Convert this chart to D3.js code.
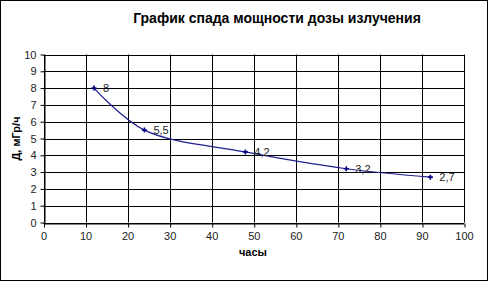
<!DOCTYPE html>
<html>
<head>
<meta charset="utf-8">
<script src="https://cdn.jsdelivr.net/npm/d3@7"></script>
<style>
  body { margin: 0; background: #fff; }
  text { font-family: Arial, "Liberation Sans", sans-serif; }
</style>
</head>
<body>
<div id="chart"></div>
<script>
// data
const hours = [12, 24, 48, 72, 92];
const doseRate = [8, 5.5, 4.2, 3.2, 2.7];
const pointLabels = ['8', '5,5', '4,2', '3,2', '2,7'];
const xTicks = [0, 10, 20, 30, 40, 50, 60, 70, 80, 90, 100];
const yTicks = [0, 1, 2, 3, 4, 5, 6, 7, 8, 9, 10];

const width = 489, height = 282;
const plot = { left: 43.5, right: 464, top: 54.5, bottom: 222.5 };

const svg = d3.select('#chart')
  .append('svg')
  .attr('width', width)
  .attr('height', height);

svg.append('rect')
  .attr('x', 0.5).attr('y', 0.5)
  .attr('width', width - 2).attr('height', height - 2)
  .attr('fill', 'white')
  .attr('stroke', 'black');

const x = d3.scaleLinear().domain([0, 100]).range([plot.left, plot.right]);
const y = d3.scaleLinear().domain([0, 10]).range([plot.bottom, plot.top]);

//gridlines
svg.append('g')
  .selectAll('line')
  .data(yTicks)
  .join('line')
  .attr('x1', plot.left).attr('x2', plot.right)
  .attr('y1', d => Math.round(y(d)) + 0.5).attr('y2', d => Math.round(y(d)) + 0.5)
  .attr('stroke', 'black');

svg.append('g')
  .selectAll('line')
  .data(xTicks)
  .join('line')
  .attr('y1', plot.top).attr('y2', plot.bottom)
  .attr('x1', d => Math.round(x(d)) + 0.5).attr('x2', d => Math.round(x(d)) + 0.5)
  .attr('stroke', 'black');

//axes
const xAxis = svg.append('g')
  .attr('transform', `translate(0,${Math.round(plot.bottom) + 0.5})`)
  .call(d3.axisBottom(x).tickValues(xTicks).tickSize(4).tickPadding(5).tickSizeOuter(0));
const yAxis = svg.append('g')
  .attr('transform', `translate(${Math.round(plot.left) + 0.5},0)`)
  .call(d3.axisLeft(y).tickValues(yTicks).tickSize(4).tickPadding(4).tickSizeOuter(0));

[xAxis, yAxis].forEach(a => {
  a.select('.domain').attr('stroke', 'black');
  a.selectAll('.tick line').attr('stroke', 'black').attr('transform', null);
  a.selectAll('.tick text')
    .attr('font-size', '11px')
    .attr('font-family', 'Arial, "Liberation Sans", sans-serif')
    .attr('fill', '#222');
});
xAxis.selectAll('.tick line').attr('x1', 0.5).attr('x2', 0.5);

//the curve
const pts = hours.map((h, i) => [x(h), y(doseRate[i])]);
svg.append('path')
  .attr('d', d3.line().curve(d3.curveCatmullRom.alpha(0.5))(pts))
  .attr('fill', 'none')
  .attr('stroke', '#1f1f8f')
  .attr('stroke-width', 1.2);

svg.append('g')
  .selectAll('path')
  .data(pts)
  .join('path')
  .attr('d', d3.symbol().type(d3.symbolCross).size(14))
  .attr('transform', d => `translate(${d[0]},${d[1]})`)
  .attr('fill', '#000080');

svg.append('g')
  .selectAll('text')
  .data(pointLabels)
  .join('text')
  .attr('x', (d, i) => x(hours[i]) + 9)
  .attr('y', (d, i) => y(doseRate[i]) + 4)
  .attr('font-size', '11px')
  .attr('fill', '#222')
  .text(d => d);

//titles
svg.append('text')
  .attr('x', 277)
  .attr('y', 23)
  .attr('text-anchor', 'middle')
  .attr('font-size', '14px')
  .attr('font-weight', 'bold')
  .text('График спада мощности дозы излучения');

svg.append('text')
  .attr('x', 253)
  .attr('y', 256)
  .attr('text-anchor', 'middle')
  .attr('font-size', '11px')
  .attr('font-weight', 'bold')
  .text('часы');

svg.append('text')
  .attr('transform', `translate(20,${(plot.top + plot.bottom) / 2}) rotate(-90)`)
  .attr('text-anchor', 'middle')
  .attr('font-size', '11px')
  .attr('font-weight', 'bold')
  .text('Д, мГр/ч');
</script>
</body>
</html>
